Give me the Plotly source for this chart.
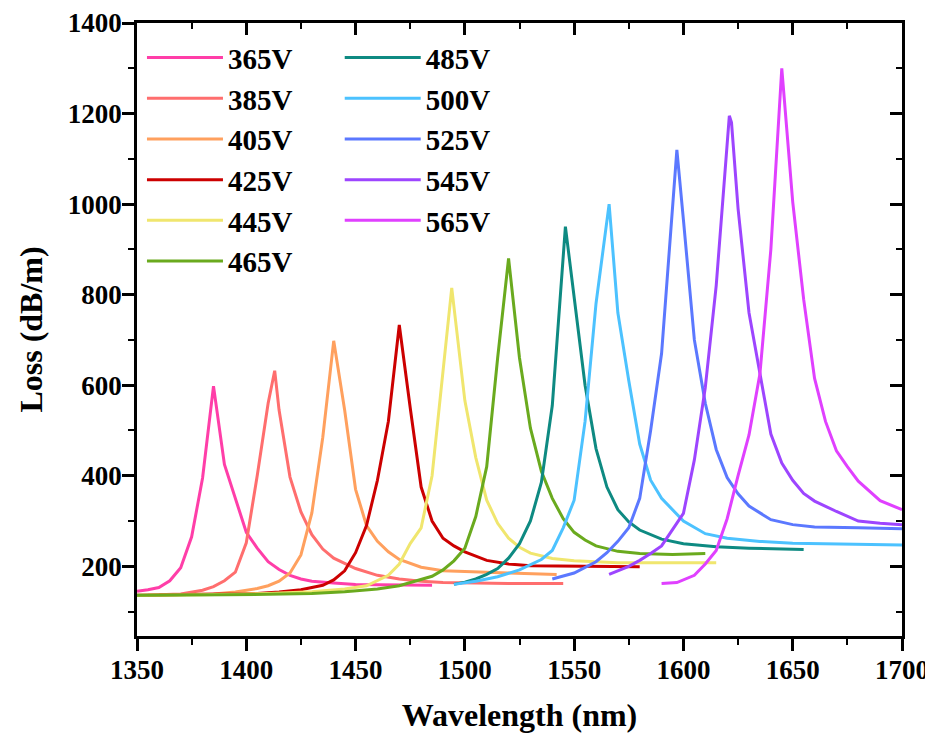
import plotly.graph_objects as go

# ---- data ----
wl_365 = [1350,1355,1360,1365,1370,1375,1380,1385,1390,1395,1400,1405,1410,1415,1420,1425,1430,1440,1450,1460,1470,1485]
loss_365 = [145,148,153,168,197,265,395,598,425,348,275,240,210,193,180,172,167,163,160,159,158,158]

wl_385 = [1360,1370,1380,1385,1390,1395,1400,1405,1410,1413,1415,1420,1425,1430,1435,1440,1450,1460,1470,1480,1490,1500,1520,1545]
loss_385 = [137,139,147,155,168,187,252,400,560,632,545,397,320,270,238,218,195,180,172,167,164,163,162,162]

wl_405 = [1355,1370,1385,1395,1405,1410,1415,1420,1425,1430,1435,1440,1445,1450,1455,1460,1465,1470,1480,1490,1500,1520,1542]
loss_405 = [136,137,139,143,151,157,167,185,225,318,485,698,545,370,290,255,232,215,198,190,188,185,182]

wl_425 = [1350,1370,1390,1405,1415,1425,1435,1440,1445,1450,1455,1460,1465,1470,1475,1480,1485,1490,1495,1500,1510,1520,1530,1550,1580]
loss_425 = [136,137,138,140,143,148,158,170,190,230,290,390,520,733,550,375,300,262,245,232,213,205,201,200,199]

wl_445 = [1350,1380,1410,1430,1445,1455,1465,1470,1475,1480,1485,1490,1494,1500,1505,1510,1515,1520,1525,1530,1540,1550,1570,1590,1615]
loss_445 = [136,137,140,144,150,157,180,205,250,285,400,630,815,566,440,346,295,262,242,229,217,212,208,208,208]

wl_465 = [1350,1370,1390,1410,1430,1445,1460,1470,1480,1485,1490,1495,1500,1505,1510,1515,1520,1525,1530,1535,1540,1545,1550,1555,1560,1570,1580,1595,1610]
loss_465 = [136,136,137,138,140,144,150,157,170,178,192,212,240,310,420,660,880,660,505,410,350,305,275,258,245,233,228,226,228]

wl_485 = [1495,1500,1505,1510,1515,1520,1525,1530,1535,1540,1546,1550,1555,1560,1565,1570,1575,1580,1590,1600,1615,1630,1655]
loss_485 = [160,165,172,182,195,218,250,300,385,555,950,800,600,460,375,325,298,280,260,250,243,240,237]

wl_500 = [1495,1505,1515,1525,1535,1540,1545,1550,1555,1560,1566,1570,1575,1580,1585,1590,1600,1610,1620,1635,1650,1670,1700]
loss_500 = [160,167,177,192,215,235,285,346,520,780,1000,760,610,470,390,350,300,272,262,255,251,249,247]

wl_525 = [1540,1550,1560,1565,1570,1575,1580,1585,1590,1597,1600,1605,1610,1615,1620,1625,1630,1640,1650,1660,1680,1700]
loss_525 = [172,185,210,230,255,285,350,500,670,1120,965,700,560,458,396,360,333,303,292,287,285,283]

wl_545 = [1566,1570,1575,1580,1585,1590,1595,1600,1605,1610,1615,1621,1622,1625,1630,1635,1640,1645,1650,1655,1660,1670,1680,1690,1700]
loss_545 = [182,190,200,213,228,245,280,317,435,595,820,1195,1180,990,760,625,492,428,390,361,344,321,300,295,292]

wl_565 = [1590,1597,1605,1610,1615,1620,1625,1630,1635,1640,1645,1650,1655,1660,1665,1670,1675,1680,1690,1700]
loss_565 = [162,164,180,205,235,305,400,490,625,900,1300,1005,790,615,520,455,420,388,345,325]

series_names = ["365V","385V","405V","425V","445V","465V","485V","500V","525V","545V","565V"]
series_x = [wl_365, wl_385, wl_405, wl_425, wl_445, wl_465, wl_485, wl_500, wl_525, wl_545, wl_565]
series_y = [loss_365, loss_385, loss_405, loss_425, loss_445, loss_465, loss_485, loss_500, loss_525, loss_545, loss_565]
colors = ["#FF3EA8","#FF6E6E","#FFA05E","#CC0000","#F0E66E","#6AAA1E",
          "#0E8A82","#4CC2FF","#5B78FF","#9D45FF","#E040FF"]

x_ticks = [1350,1400,1450,1500,1550,1600,1650,1700]
y_ticks = [200,400,600,800,1000,1200,1400]
y_minor = [100,300,500,700,900,1100,1300]

FONT = "Liberation Serif"

fig = go.Figure()
for i, (name, xs, ys, c) in enumerate(zip(series_names, series_x, series_y, colors)):
    fig.add_trace(go.Scatter(
        x=xs, y=ys, mode="lines", name=name,
        line=dict(color=c, width=3),
        legend="legend" if i < 6 else "legend2",
    ))

# dummy trace so the mirrored (inside-tick) top/right axes are drawn
fig.add_trace(go.Scatter(x=[None], y=[None], xaxis="x2", yaxis="y2",
                         showlegend=False, hoverinfo="skip"))

xr = [1350, 1700]
yr = [46, 1400]

axis_font = dict(family=FONT, size=27, color="black", weight="bold")
title_font = dict(family=FONT, size=32, color="black", weight="bold")
legend_font = dict(family=FONT, size=29, color="black", weight="bold")

common = dict(tickwidth=2.5, tickcolor="black", showline=True, linecolor="black",
              linewidth=2.5, showgrid=False, zeroline=False, automargin=False)

fig.update_layout(
    width=933, height=735,
    margin=dict(l=129, r=39, t=15, b=107),
    plot_bgcolor="white", paper_bgcolor="white",
    xaxis=dict(range=xr, tickvals=x_ticks, ticks="outside", ticklen=12, mirror=True,
               tickfont=axis_font, ticklabelstandoff=-4, ticklabeloverflow="allow",
               minor=dict(dtick=25, ticks="outside", ticklen=6, tickwidth=2, tickcolor="black"),
               title=dict(text="Wavelength (nm)", font=title_font, standoff=20), **common),
    yaxis=dict(range=yr, tickvals=y_ticks, ticks="outside", ticklen=12, mirror=True,
               tickfont=axis_font, ticklabelstandoff=-5, ticklabeloverflow="allow",
               minor=dict(tickvals=y_minor, ticks="outside", ticklen=6, tickwidth=2, tickcolor="black"),
               title=dict(text="Loss (dB/m)", font=title_font, standoff=16), **common),
    xaxis2=dict(range=xr, overlaying="x", side="top", anchor="y", tickvals=x_ticks,
                ticks="inside", ticklen=12, showticklabels=False,
                minor=dict(dtick=25, ticks="inside", ticklen=6, tickwidth=2, tickcolor="black"),
                **common),
    yaxis2=dict(range=yr, overlaying="y", side="right", anchor="x", tickvals=y_ticks,
                ticks="inside", ticklen=12, showticklabels=False,
                minor=dict(tickvals=y_minor, ticks="inside", ticklen=6, tickwidth=2, tickcolor="black"),
                **common),
    legend=dict(x=0.0065, y=0.985, xanchor="left", yanchor="top",
                bgcolor="rgba(0,0,0,0)", itemwidth=76, font=legend_font),
    legend2=dict(x=0.265, y=0.985, xanchor="left", yanchor="top",
                 bgcolor="rgba(0,0,0,0)", itemwidth=76, font=legend_font),
)

fig.write_html("out.html")
